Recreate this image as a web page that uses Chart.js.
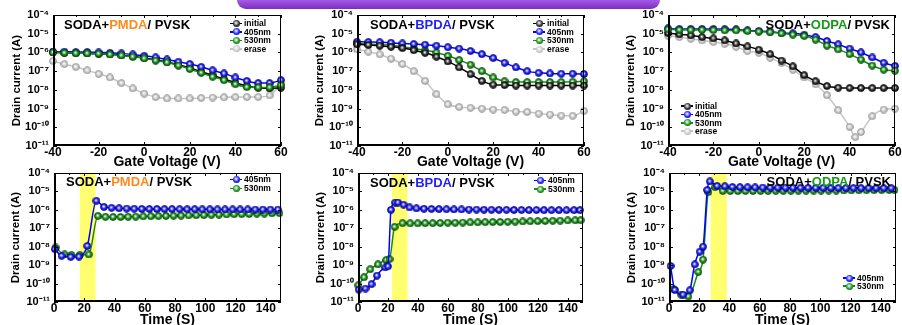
<!DOCTYPE html>
<html><head><meta charset="utf-8">
<script src="https://cdn.jsdelivr.net/npm/chart.js@4.4.0/dist/chart.umd.min.js"></script>
<style>
html,body{margin:0;padding:0;background:#fff;width:902px;height:325px;overflow:hidden;position:relative;font-family:"Liberation Sans",Arial,sans-serif;}
canvas{position:absolute;display:block;}
.ttl{position:absolute;font-weight:bold;font-size:13px;line-height:13px;white-space:nowrap;color:#000;}
.leg{position:absolute;font-weight:bold;font-size:8.5px;color:#000;}
.row{position:relative;display:flex;align-items:center;white-space:nowrap;}
.sym{position:relative;width:12px;height:8px;margin-right:2px;flex:none;}
.sym .ln{position:absolute;left:0;right:0;top:3.3px;height:1.5px;}
.sym .dot{position:absolute;left:2.5px;top:0.5px;width:7px;height:7px;border-radius:50%;}
#tab{position:absolute;left:237px;top:0;width:423px;height:9px;border-radius:0 0 9px 9px;background:linear-gradient(#a45ae6,#7a2fc0);}
</style></head><body>
<div id="tab"></div>
<canvas id="c1" width="300" height="172" style="left:0;top:0"></canvas>
<canvas id="c2" width="300" height="172" style="left:300px;top:0"></canvas>
<canvas id="c3" width="302" height="172" style="left:600px;top:0"></canvas>
<canvas id="c4" width="300" height="167" style="left:0;top:160px"></canvas>
<canvas id="c5" width="300" height="167" style="left:300px;top:160px"></canvas>
<canvas id="c6" width="302" height="167" style="left:600px;top:160px"></canvas>
<script>
// ---------- DATA ----------
const decadeExponents = [-4, -5, -6, -7, -8, -9, -10, -11];
const voltageTicks = [-40, -20, 0, 20, 40, 60];
const timeTicks = [0, 20, 40, 60, 80, 100, 120, 140];

const gateVoltage = [-40,-35,-30,-25,-20,-15,-10,-5,0,5,10,15,20,25,30,35,40,45,50,55,60];

const pmdaInitial = [1.0e-6,9.5e-7,9.1e-7,8.9e-7,8.5e-7,7.9e-7,7.1e-7,6.1e-7,5.1e-7,4.0e-7,3.1e-7,2.2e-7,1.5e-7,9.5e-8,6.0e-8,3.8e-8,2.4e-8,1.6e-8,1.3e-8,1.2e-8,1.3e-8];
const pmda405 = [1.1e-6,1.1e-6,1.05e-6,1.05e-6,1.0e-6,9.5e-7,8.9e-7,7.8e-7,6.6e-7,5.4e-7,4.2e-7,3.2e-7,2.4e-7,1.7e-7,1.1e-7,7.5e-8,4.6e-8,3.0e-8,2.3e-8,2.3e-8,3.3e-8];
const pmda530 = [1.0e-6,9.5e-7,9.1e-7,8.9e-7,8.5e-7,7.8e-7,6.9e-7,5.9e-7,4.8e-7,3.7e-7,2.9e-7,2.0e-7,1.3e-7,8.1e-8,5.0e-8,3.3e-8,2.0e-8,1.4e-8,1.35e-8,1.35e-8,1.8e-8];
const pmdaErase = [3.5e-7,2.4e-7,1.7e-7,1.1e-7,7.2e-8,4.6e-8,2.3e-8,1.2e-8,6.3e-9,4.1e-9,3.5e-9,3.5e-9,3.5e-9,3.7e-9,3.9e-9,4.0e-9,4.1e-9,4.2e-9,4.2e-9,5.1e-9,2.0e-8];

const bpdaInitial = [2.7e-6,2.5e-6,2.3e-6,2.0e-6,1.7e-6,1.3e-6,9.5e-7,5.9e-7,3.3e-7,1.6e-7,6.9e-8,3.0e-8,1.9e-8,1.8e-8,1.7e-8,1.7e-8,1.7e-8,1.7e-8,1.7e-8,1.7e-8,1.7e-8];
const bpda405 = [3.7e-6,3.6e-6,3.5e-6,3.3e-6,3.0e-6,2.8e-6,2.6e-6,2.3e-6,1.9e-6,1.6e-6,1.2e-6,8.1e-7,5.0e-7,2.8e-7,1.6e-7,1.0e-7,8.1e-8,7.5e-8,7.3e-8,7.3e-8,7.0e-8];
const bpda530 = [3.0e-6,2.8e-6,2.6e-6,2.4e-6,2.0e-6,1.6e-6,1.3e-6,1.0e-6,6.6e-7,3.9e-7,2.2e-7,1.0e-7,4.6e-8,2.9e-8,2.6e-8,2.6e-8,2.6e-8,2.6e-8,2.6e-8,2.7e-8,2.9e-8];
const bpdaErase = [1.45e-6,1.1e-6,7.9e-7,4.6e-7,2.4e-7,1.0e-7,3.0e-8,5.9e-9,1.7e-9,1.23e-9,1.1e-9,1.0e-9,8.9e-10,8.5e-10,6.9e-10,6.6e-10,5.4e-10,4.8e-10,4.2e-10,4.1e-10,7.5e-10];

const odpaInitial = [1.1e-5,9.2e-6,8.1e-6,6.6e-6,5.6e-6,4.4e-6,3.0e-6,2.1e-6,1.4e-6,8.1e-7,3.7e-7,1.8e-7,6.1e-8,2.9e-8,1.6e-8,1.3e-8,1.25e-8,1.25e-8,1.25e-8,1.25e-8,1.25e-8];
const odpa405 = [1.9e-5,1.8e-5,1.8e-5,1.8e-5,1.8e-5,1.75e-5,1.7e-5,1.5e-5,1.4e-5,1.3e-5,1.1e-5,1.05e-5,8.9e-6,6.6e-6,4.1e-6,2.7e-6,1.6e-6,1.0e-6,5.4e-7,2.8e-7,1.9e-7];
const odpa530 = [1.7e-5,1.6e-5,1.6e-5,1.6e-5,1.55e-5,1.5e-5,1.5e-5,1.4e-5,1.3e-5,1.2e-5,1.05e-5,8.9e-6,7.5e-6,4.8e-6,2.3e-6,1.45e-6,8.1e-7,4.1e-7,2.0e-7,1.2e-7,1.05e-7];
const odpaEraseVoltage = [-40,-35,-30,-25,-20,-15,-10,-5,0,5,10,15,20,25,30,35,40,42.5,45,50,55,60];
const odpaErase = [7.9e-6,6.6e-6,5.4e-6,4.4e-6,3.6e-6,2.9e-6,2.0e-6,1.2e-6,9.5e-7,5.2e-7,2.7e-7,1.2e-7,4.6e-8,2.0e-8,5.2e-9,8.2e-10,1.05e-10,3.0e-11,5.6e-11,3.9e-10,8.9e-10,1.0e-9];

const pmdaTime405 = [0.5,5,11,16.5,22,28,33,38,43,48,53,58,63,68,73,78,83,88,93,98,103,108,113,118,123,128,133,138,143,148];
const pmdaCur405 = [7.4e-9,3.2e-9,2.8e-9,2.9e-9,1.1e-8,3.1e-6,1.45e-6,1.3e-6,1.22e-6,1.18e-6,1.15e-6,1.13e-6,1.12e-6,1.11e-6,1.1e-6,1.1e-6,1.09e-6,1.08e-6,1.08e-6,1.07e-6,1.07e-6,1.06e-6,1.06e-6,1.05e-6,1.05e-6,1.05e-6,1.04e-6,1.04e-6,1.04e-6,1.04e-6];
const pmdaTime530 = [1,7,11.5,17,23,29,34,39,44,49,54,59,64,69,74,79,84,89,94,99,104,109,114,119,124,129,134,139,144,149];
const pmdaCur530 = [9.1e-9,3.8e-9,3.6e-9,3.6e-9,3.8e-9,4.7e-7,4.2e-7,4.1e-7,4.1e-7,4.2e-7,4.3e-7,4.4e-7,4.5e-7,4.6e-7,4.7e-7,4.8e-7,4.9e-7,5.0e-7,5.1e-7,5.2e-7,5.4e-7,5.5e-7,5.6e-7,5.8e-7,5.9e-7,6.0e-7,6.2e-7,6.3e-7,6.5e-7,6.6e-7];

const bpdaTime405 = [0.5,5,9,12.6,18.2,20,22,24.8,26.6,30.4,34.4,39,44,49,54,59,64,69,74,79,84,89,94,99,104,109,114,119,124,129,134,139,144,148];
const bpdaCur405 = [4.7e-11,5.4e-11,9.2e-11,2.7e-10,7.5e-10,8.7e-10,1.0e-6,2.5e-6,2.5e-6,1.9e-6,1.35e-6,1.2e-6,1.15e-6,1.12e-6,1.1e-6,1.08e-6,1.06e-6,1.05e-6,1.04e-6,1.03e-6,1.02e-6,1.01e-6,1.0e-6,1.0e-6,9.9e-7,9.9e-7,9.8e-7,9.8e-7,9.7e-7,9.7e-7,9.7e-7,9.6e-7,9.6e-7,9.6e-7];
const bpdaTime530 = [0.2,4,8.2,13.3,18.8,21,24.4,29.7,34.8,39.8,44.8,49.8,54.8,59.8,64.8,69.8,74.8,79.8,84.8,89.8,94.8,99.8,104.8,109.8,114.8,119.8,124.8,129.8,134.8,139.8,144.8,148.5];
const bpdaCur530 = [8.1e-11,2.2e-10,6.0e-10,1.1e-9,1.9e-9,2.1e-9,1.2e-7,1.9e-7,1.85e-7,1.85e-7,1.9e-7,1.9e-7,1.95e-7,2.0e-7,2.0e-7,2.05e-7,2.1e-7,2.1e-7,2.15e-7,2.2e-7,2.2e-7,2.25e-7,2.3e-7,2.35e-7,2.4e-7,2.45e-7,2.5e-7,2.55e-7,2.6e-7,2.65e-7,2.7e-7,2.75e-7];

const odpaTime405 = [1,3.8,9.3,13.7,17,20.3,22.5,25.3,27,31.8,36.9,41.9,46.9,51.9,56.9,61.9,66.9,71.9,76.9,81.9,86.9,91.9,96.9,101.9,106.9,111.9,116.9,121.9,126.9,131.9,136.9,141.9,146.9];
const odpaCur405 = [9.0e-10,4.5e-11,2.5e-11,4.3e-11,1.1e-9,5.4e-9,1.0e-8,1.2e-5,3.5e-5,2.0e-5,1.9e-5,1.75e-5,1.7e-5,1.68e-5,1.65e-5,1.63e-5,1.62e-5,1.6e-5,1.6e-5,1.58e-5,1.57e-5,1.56e-5,1.55e-5,1.55e-5,1.54e-5,1.53e-5,1.52e-5,1.52e-5,1.51e-5,1.5e-5,1.5e-5,1.5e-5,1.5e-5];
const odpaTime530 = [3,8,12.8,19.4,22.5,26,30.4,35.5,40.5,45.5,50.5,55.5,60.5,65.5,70.5,75.5,80.5,85.5,90.5,95.5,100.5,105.5,110.5,115.5,120.5,125.5,130.5,135.5,140.5,145.5,149];
const odpaCur530 = [5.0e-11,2.5e-11,2.0e-11,4.3e-10,2.0e-9,9.2e-6,1.7e-5,1.07e-5,1.05e-5,1.05e-5,1.06e-5,1.06e-5,1.07e-5,1.07e-5,1.08e-5,1.08e-5,1.09e-5,1.09e-5,1.1e-5,1.1e-5,1.11e-5,1.12e-5,1.12e-5,1.13e-5,1.14e-5,1.15e-5,1.16e-5,1.17e-5,1.18e-5,1.19e-5,1.2e-5];

const pmdaLight = [17, 27.4];
const bpdaLight = [22.7, 33];
const odpaLight = [27.6, 38.2];

// ---------- STYLE ----------
const COLORS = {
  initial: {line:'#000000', base:'#3a3a3a', dark:'#000000'},
  b405:    {line:'#0000ff', base:'#2a2aff', dark:'#00008c'},
  g530:    {line:'#138a13', base:'#2a9a2a', dark:'#004d00'},
  erase:   {line:'#c4c4c4', base:'#cfcfcf', dark:'#9a9a9a'}
};
function sphere(c){
  const cv = document.createElement('canvas'); cv.width = 8; cv.height = 8;
  const g = cv.getContext('2d');
  const gr = g.createRadialGradient(3.6,3.4,0.2,4,4,3.8);
  gr.addColorStop(0,'#ffffff'); gr.addColorStop(0.5,c.base); gr.addColorStop(1,c.dark);
  g.fillStyle = gr; g.beginPath(); g.arc(4,4,3.5,0,Math.PI*2); g.fill();
  g.lineWidth = 0.7; g.strokeStyle = c.dark; g.stroke();
  return cv;
}
const MARK = {};
for (const k in COLORS) MARK[k] = sphere(COLORS[k]);

const SUP = {'-':'\u207B','0':'\u2070','1':'\u00B9','2':'\u00B2','3':'\u00B3','4':'\u2074','5':'\u2075','6':'\u2076','7':'\u2077','8':'\u2078','9':'\u2079'};
const supText = v => '10' + String(Math.round(Math.log10(v))).split('').map(c => SUP[c]).join('');

const framePlugin = {
  id: 'frame',
  beforeDatasetsDraw(chart){
    const band = chart.options.plugins.frame.band;
    if (!band) return;
    const {ctx, chartArea:a, scales:{x}} = chart;
    const x0 = x.getPixelForValue(band[0]), x1 = x.getPixelForValue(band[1]);
    ctx.save(); ctx.fillStyle = 'rgb(255,255,112)';
    ctx.fillRect(x0, a.top, x1 - x0, a.bottom - a.top); ctx.restore();
  },
  afterDatasetsDraw(chart){
    const {ctx, chartArea:a, scales:{x,y}} = chart;
    ctx.save(); ctx.strokeStyle = '#000'; ctx.lineWidth = 1; ctx.beginPath();
    const xt = x.ticks.map(t => t.value);
    xt.forEach((v,i) => {
      const px = Math.round(x.getPixelForValue(v)) + 0.5;
      ctx.moveTo(px, a.bottom); ctx.lineTo(px, a.bottom - 4);
      ctx.moveTo(px, a.top); ctx.lineTo(px, a.top + 3);
      const nv = i < xt.length - 1 ? (v + xt[i+1]) / 2 : v + (v - xt[i-1]) / 2;
      if (nv < x.max) {
        const pm = Math.round(x.getPixelForValue(nv)) + 0.5;
        ctx.moveTo(pm, a.bottom); ctx.lineTo(pm, a.bottom - 2);
        ctx.moveTo(pm, a.top); ctx.lineTo(pm, a.top + 2);
      }
    });
    y.ticks.forEach(t => {
      const py = Math.round(y.getPixelForValue(t.value)) + 0.5;
      ctx.moveTo(a.left, py); ctx.lineTo(a.left + 4, py);
      ctx.moveTo(a.right, py); ctx.lineTo(a.right - 3, py);
    });
    ctx.stroke();
    ctx.strokeRect(a.left + 0.5, a.top + 0.5, a.right - a.left - 1, a.bottom - a.top - 1);
    ctx.lineWidth = 2; ctx.beginPath();
    ctx.moveTo(a.left + 1, a.top); ctx.lineTo(a.left + 1, a.bottom - 1); ctx.lineTo(a.right, a.bottom - 1);
    ctx.stroke(); ctx.restore();
  }
};

const FONT = "'Liberation Sans', Arial, sans-serif";
function series(label, key, xs, ys, order){
  const c = COLORS[key];
  return {
    label, data: xs.map((v,i) => ({x:v, y:ys[i]})),
    borderColor: c.line, backgroundColor: c.line, borderWidth: 1.5,
    pointStyle: MARK[key], pointRadius: 4, pointHoverRadius: 4,
    cubicInterpolationMode: 'monotone', order, clip: 6, fill: false
  };
}
function makeChart(id, cfg){
  return new Chart(document.getElementById(id), {
    type: 'line',
    data: {datasets: cfg.datasets},
    options: {
      responsive: false, animation: false, events: [],
      layout: {padding: {left: 0, top: cfg.top, right: cfg.right, bottom: 0}},
      plugins: {legend: {display: false}, tooltip: {enabled: false}, frame: {band: cfg.band}},
      scales: {
        x: {
          type: 'linear', min: cfg.xmin, max: cfg.xmax,
          afterBuildTicks: s => { s.ticks = cfg.xticks.map(v => ({value: v})); },
          ticks: {font: {family: FONT, size: 12, weight: 'bold'}, color: '#000', padding: -1, maxRotation: 0, autoSkip: false},
          grid: {display: false, drawTicks: false}, border: {display: false},
          title: {display: true, text: cfg.xtitle, color: '#000', font: {family: FONT, size: 14, weight: 'bold'}, padding: {top: 0, bottom: cfg.xtpad}},
          afterFit: s => { s.height = cfg.xh; }
        },
        y: {
          type: 'logarithmic', min: 1e-11, max: 1e-4,
          afterBuildTicks: s => { s.ticks = decadeExponents.map(e => ({value: Math.pow(10, e)})); },
          ticks: {callback: v => supText(v), font: {family: FONT, size: 11, weight: 'bold'}, color: '#000', padding: 4, autoSkip: false},
          grid: {display: false, drawTicks: false}, border: {display: false},
          title: {display: true, text: 'Drain current (A)', color: '#000', font: {family: FONT, size: 11.5, weight: 'bold'}, padding: {top: cfg.ytpad, bottom: 0}},
          afterFit: s => { s.width = cfg.yw; }
        }
      }
    },
    plugins: [framePlugin]
  });
}

const topCommon = {xmin: -40, xmax: 60, xticks: voltageTicks, xtitle: 'Gate Voltage (V)', xh: 26, xtpad: 1, top: 15};
const botCommon = {xmin: 0, xmax: 150, xticks: timeTicks, xtitle: 'Time (S)', xh: 25, xtpad: -1.5, top: 13};

makeChart('c1', Object.assign({}, topCommon, {right: 19, yw: 53, ytpad: 10, datasets: [
  series('initial','initial',gateVoltage,pmdaInitial,3), series('405nm','b405',gateVoltage,pmda405,2),
  series('530nm','g530',gateVoltage,pmda530,1), series('erase','erase',gateVoltage,pmdaErase,4)]}));
makeChart('c2', Object.assign({}, topCommon, {right: 16, yw: 57, ytpad: 13, datasets: [
  series('initial','initial',gateVoltage,bpdaInitial,1), series('405nm','b405',gateVoltage,bpda405,2),
  series('530nm','g530',gateVoltage,bpda530,3), series('erase','erase',gateVoltage,bpdaErase,4)]}));
makeChart('c3', Object.assign({}, topCommon, {right: 7, yw: 68, ytpad: 24, datasets: [
  series('initial','initial',gateVoltage,odpaInitial,3), series('405nm','b405',gateVoltage,odpa405,2),
  series('530nm','g530',gateVoltage,odpa530,1), series('erase','erase',odpaEraseVoltage,odpaErase,4)]}));
makeChart('c4', Object.assign({}, botCommon, {right: 19, yw: 54, ytpad: 8.5, band: pmdaLight, datasets: [
  series('405nm','b405',pmdaTime405,pmdaCur405,1), series('530nm','g530',pmdaTime530,pmdaCur530,2)]}));
makeChart('c5', Object.assign({}, botCommon, {right: 17, yw: 58, ytpad: 13.5, band: bpdaLight, datasets: [
  series('405nm','b405',bpdaTime405,bpdaCur405,1), series('530nm','g530',bpdaTime530,bpdaCur530,2)]}));
makeChart('c6', Object.assign({}, botCommon, {right: 6, yw: 69, ytpad: 24.5, band: odpaLight, datasets: [
  series('405nm','b405',odpaTime405,odpaCur405,1), series('530nm','g530',odpaTime530,odpaCur530,2)]}));

// ---------- TITLES & LEGENDS (HTML text) ----------
const titles = [
  {pos: 'left:64px;top:18px', mid: 'PMDA', color: '#ff8a1c'},
  {pos: 'left:370px;top:18px', mid: 'BPDA', color: '#1f1fff'},
  {pos: 'right:12px;top:18px', mid: 'ODPA', color: '#169a16'},
  {pos: 'left:66px;top:175px', mid: 'PMDA', color: '#ff8a1c'},
  {pos: 'left:370px;top:176px', mid: 'BPDA', color: '#1f1fff'},
  {pos: 'right:11px;top:175px', mid: 'ODPA', color: '#169a16'}
];
titles.forEach(t => {
  const d = document.createElement('div'); d.className = 'ttl'; d.style.cssText = t.pos;
  d.innerHTML = 'SODA+<span style="color:' + t.color + '">' + t.mid + '</span>/ PVSK';
  document.body.appendChild(d);
});
const fourKeys = [['initial','initial'],['405nm','b405'],['530nm','g530'],['erase','erase']];
const twoKeys = [['405nm','b405'],['530nm','g530']];
const legends = [
  {x: 230, y: 19, h: 8.5, items: fourKeys},
  {x: 533, y: 19, h: 8.6, items: fourKeys},
  {x: 681, y: 102, h: 8.3, items: fourKeys},
  {x: 230, y: 175, h: 9, items: twoKeys},
  {x: 534, y: 176, h: 8.7, items: twoKeys},
  {x: 843, y: 274, h: 8, items: twoKeys}
];
legends.forEach(L => {
  const box = document.createElement('div'); box.className = 'leg';
  box.style.left = L.x + 'px'; box.style.top = L.y + 'px';
  L.items.forEach(([label, key]) => {
    const c = COLORS[key];
    const r = document.createElement('div'); r.className = 'row';
    r.style.height = L.h + 'px'; r.style.lineHeight = L.h + 'px';
    r.innerHTML = '<span class="sym"><span class="ln" style="background:' + c.line + '"></span>' +
      '<span class="dot" style="background:radial-gradient(circle at 45% 42%, #fff 0, ' + c.base + ' 50%, ' + c.dark + ' 100%)"></span></span>' + label;
    box.appendChild(r);
  });
  document.body.appendChild(box);
});
</script>
</body></html>
